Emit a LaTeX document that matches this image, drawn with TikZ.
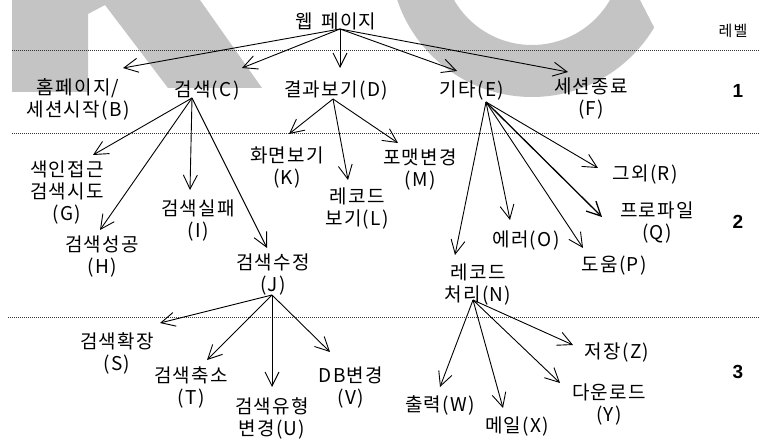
\documentclass[tikz,border=0pt]{standalone}
\usepackage{fontspec}
\setmainfont{Noto Sans CJK KR}[LetterSpace=7]
\newfontfamily\lvfont{Liberation Sans}
\usetikzlibrary{arrows.meta}
\definecolor{wmgray}{RGB}{196,196,196}
\tikzset{
  txt/.style={inner sep=0pt, align=center, font=\fontsize{19}{22}\selectfont},
  lvl/.style={inner sep=0pt, font=\lvfont\bfseries\fontsize{19}{20}\selectfont},
  lvlhead/.style={inner sep=0pt, font=\fontsize{15}{17}\selectfont},
  arr/.style={-{Straight Barb[length=14pt,width=14pt]}, line width=0.9pt},
  dotline/.style={line width=0.6pt, dash pattern=on 1pt off 1pt, black!80},
  wm/.style={fill=wmgray, draw=none}
}
\begin{document}
\begin{tikzpicture}[x=1pt,y=-1pt]
\useasboundingbox (0,0) rectangle (760,441);
% watermark
\fill[wmgray] (12,0) -- (200,0) -- (262,88) -- (168,88) -- (105,5) -- (88,14) -- (88,92) -- (12,92) -- cycle;
\begin{scope}
\clip (300,0) -- (640,0) -- (725,165) -- (300,165) -- cycle;
\fill[wmgray, even odd rule] (532,-45) circle[radius=142pt] (532,-45) circle[radius=90pt];
\end{scope}
% level lines
\draw[dotline] (12,50) -- (760,50);
\draw[dotline] (12,133) -- (760,133);
\draw[dotline] (8,317) -- (760,317);
% nodes
\node[txt] (A) at (336,21) {웹\hspace{8pt}페이지};
\node[lvlhead] (lv) at (733,31) {레벨};
\node[lvl] (l1) at (738,91) {1};
\node[lvl] (l2) at (738,222) {2};
\node[lvl] (l3) at (738,372) {3};
\node[txt] (B) at (78,99) {홈페이지/\\세션시작(B)};
\node[txt] (C) at (207,91) {검색(C)};
\node[txt] (D) at (336,91) {결과보기(D)};
\node[txt] (E) at (472,91) {기타(E)};
\node[txt] (F) at (591,99) {세션종료\\(F)};
\node[txt] (G) at (67,193) {색인접근\\검색시도\\(G)};
\node[txt] (H) at (102,257) {검색성공\\(H)};
\node[txt] (I) at (198,221) {검색실패\\(I)};
\node[txt] (J) at (273,275) {검색수정\\(J)};
\node[txt] (K) at (287,168) {화면보기\\(K)};
\node[txt] (L) at (357,209) {레코드\\보기(L)};
\node[txt] (M) at (420,170) {포맷변경\\(M)};
\node[txt] (N) at (478,285) {레코드\\처리(N)};
\node[txt] (O) at (526,241) {에러(O)};
\node[txt] (P) at (614,266) {도움(P)};
\node[txt] (Q) at (657,223) {프로파일\\(Q)};
\node[txt] (R) at (645,175) {그외(R)};
\node[txt] (S) at (117,353) {검색확장\\(S)};
\node[txt] (T) at (191,387) {검색축소\\(T)};
\node[txt] (U) at (272,418) {검색유형\\변경(U)};
\node[txt] (V) at (351,388) {DB변경\\(V)};
\node[txt] (W) at (440,405) {출력(W)};
\node[txt] (X) at (517,427) {메일(X)};
\node[txt] (Y) at (609,405) {다운로드\\(Y)};
\node[txt] (Z) at (617,353) {저장(Z)};
% connector end points
\coordinate (A-out) at (340,29);
\coordinate (B-in) at (123,68);
\coordinate (C-in) at (242,68);
\coordinate (D-in) at (340,68);
\coordinate (E-in) at (457,71);
\coordinate (F-in) at (568,72);
\coordinate (C-out) at (192,98);
\coordinate (G-in) at (93,155);
\coordinate (H-in) at (100,230);
\coordinate (I-in) at (190,190);
\coordinate (J-in) at (267,248);
\coordinate (D-out) at (333,99);
\coordinate (K-in) at (289,134);
\coordinate (L-in) at (348,180);
\coordinate (M-in) at (398,143);
\coordinate (E-out) at (486,102);
\coordinate (N-in) at (455,255);
\coordinate (O-in) at (510,220);
\coordinate (P-in) at (583,248);
\coordinate (Q-in) at (602,217);
\coordinate (R-in) at (598,168);
\coordinate (J-out) at (272,295);
\coordinate (S-in) at (160,323);
\coordinate (T-in) at (207,360);
\coordinate (U-in) at (272,387);
\coordinate (V-in) at (330,352);
\coordinate (N-out) at (473,300);
\coordinate (W-in) at (440,387);
\coordinate (X-in) at (503,408);
\coordinate (Y-in) at (560,383);
\coordinate (Z-in) at (573,345);
% connectors
\foreach \t in {B,C,D,E,F} \draw[arr] (A-out) -- (\t-in);
\foreach \t in {G,H,I,J} \draw[arr] (C-out) -- (\t-in);
\foreach \t in {K,L,M} \draw[arr] (D-out) -- (\t-in);
\foreach \t in {N,O,P,R} \draw[arr] (E-out) -- (\t-in);
\draw[arr, line width=1.3pt] (E-out) -- (Q-in);
\foreach \t in {S,T,U,V} \draw[arr] (J-out) -- (\t-in);
\foreach \t in {W,X,Y,Z} \draw[arr] (N-out) -- (\t-in);
\end{tikzpicture}
\end{document}
